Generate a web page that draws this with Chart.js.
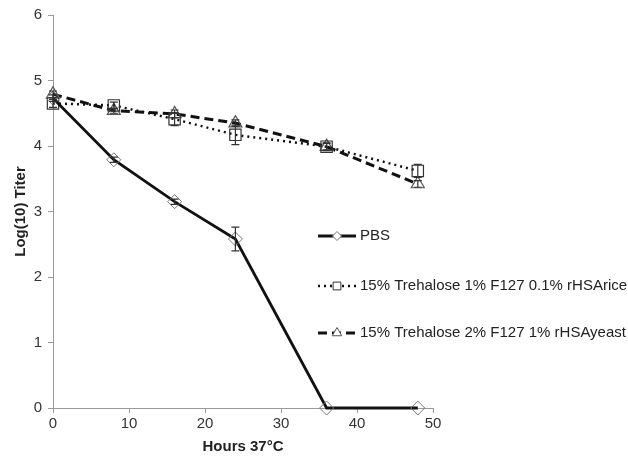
<!DOCTYPE html>
<html>
<head>
<meta charset="utf-8">
<script src="https://cdn.jsdelivr.net/npm/chart.js@4/dist/chart.umd.min.js"></script>
<style>
  html, body { margin: 0; padding: 0; background: #fff; }
  #wrap { width: 628px; height: 456px; position: relative; }
</style>
</head>
<body>
<div id="wrap"><canvas id="chart"></canvas></div>
<script>
// values
const hours = [0, 8, 16, 24, 36, 48];
const seriesNames = ['PBS', '15% Trehalose 1% F127 0.1% rHSArice', '15% Trehalose 2% F127 1% rHSAyeast'];
const pbsTiter = [4.73, 3.79, 3.15, 2.58, 0, 0];
const pbsErr = [0.05, 0.04, 0.04, 0.18, 0, 0];
const riceTiter = [4.65, 4.62, 4.41, 4.17, 3.99, 3.62];
const riceErr = [0.06, 0.05, 0.1, 0.15, 0.06, 0.1];
const yeastTiter = [4.79, 4.54, 4.49, 4.35, 3.99, 3.42];
const yeastErr = [0.05, 0.04, 0.06, 0.05, 0.05, 0.05];
const yTicks = [0, 1, 2, 3, 4, 5, 6];
const xTicks = [0, 10, 20, 30, 40, 50];

const FONT = '"Liberation Sans", Arial, sans-serif';
const toPts = (ys) => hours.map((h, i) => ({ x: h, y: ys[i] }));

const errorBars = {
    id: 'errorBars',
    afterDatasetsDraw(chart) {
        const { ctx, scales: { x, y } } = chart;
        ctx.save();
        ctx.strokeStyle = '#333';
        ctx.lineWidth = 1.2;
        chart.data.datasets.forEach(ds => {
            (ds.errors || []).forEach((e, i) => {
                if (!e) return;
                const px = x.getPixelForValue(ds.data[i].x);
                const top = y.getPixelForValue(ds.data[i].y + e);
                const bot = y.getPixelForValue(ds.data[i].y - e);
                ctx.beginPath();
                ctx.moveTo(px, top); ctx.lineTo(px, bot);
                ctx.moveTo(px - 4, top); ctx.lineTo(px + 4, top);
                ctx.moveTo(px - 4, bot); ctx.lineTo(px + 4, bot);
                ctx.stroke();
            });
        });
        ctx.restore();
    }
};

// legend drawn by hand: line + marker + label
const sideLegend = {
    id: 'sideLegend',
    afterDraw(chart) {
        const ctx = chart.ctx;
        const rows = [236, 286, 333];
        const markerR = [4.5, 5.5, 5.5];
        ctx.save();
        chart.data.datasets.forEach((ds, i) => {
            const yy = rows[i];
            ctx.strokeStyle = '#111';
            ctx.lineWidth = ds.borderWidth;
            ctx.setLineDash(ds.borderDash || []);
            ctx.beginPath();
            ctx.moveTo(318, yy); ctx.lineTo(356, yy);
            ctx.stroke();
            ctx.setLineDash([]);
            ctx.fillStyle = '#fff';
            ctx.strokeStyle = ds.pointBorderColor;
            ctx.lineWidth = 1;
            Chart.helpers.drawPoint(ctx, {
                pointStyle: ds.pointStyle, radius: markerR[i], rotation: 0, borderWidth: 1
            }, 337, yy);
            ctx.fillStyle = '#222';
            ctx.font = '15px ' + FONT;
            ctx.textBaseline = 'middle';
            ctx.fillText(ds.label, 360, yy);
        });
        ctx.restore();
    }
};

new Chart(document.getElementById('chart'), {
    type: 'line',
    data: {
        datasets: [
            {
                label: seriesNames[0], data: toPts(pbsTiter), errors: pbsErr,
                borderColor: '#111', borderWidth: 2.8, clip: false,
                pointStyle: 'rectRot', pointRadius: 7, pointBorderColor: '#777',
                pointBackgroundColor: 'rgba(255,255,255,0)', pointBorderWidth: 1
            },
            {
                label: seriesNames[1], data: toPts(riceTiter), errors: riceErr,
                borderColor: '#111', borderWidth: 2.5, borderDash: [2, 4], clip: false,
                pointStyle: 'rect', pointRadius: 8, pointBorderColor: '#333',
                pointBackgroundColor: 'rgba(255,255,255,0)', pointBorderWidth: 1.2
            },
            {
                label: seriesNames[2], data: toPts(yeastTiter), errors: yeastErr,
                borderColor: '#111', borderWidth: 3, borderDash: [9, 5], clip: false,
                pointStyle: 'triangle', pointRadius: 7.5, pointBorderColor: '#555',
                pointBackgroundColor: 'rgba(255,255,255,0)', pointBorderWidth: 1.2
            }
        ]
    },
    options: {
        responsive: true,
        maintainAspectRatio: false,
        animation: false,
        layout: { padding: { top: 15, right: 195, left: 0, bottom: 0 } },
        plugins: { legend: { display: false }, tooltip: { enabled: false } },
        elements: { line: { tension: 0 } },
        scales: {
            x: {
                type: 'linear', min: 0, max: 50,
                afterBuildTicks: s => { s.ticks = xTicks.map(v => ({ value: v })); },
                afterFit: s => { s.height = 48; },
                grid: { drawOnChartArea: false, drawTicks: true, tickLength: 5, color: '#999' },
                border: { color: '#999', width: 1 },
                ticks: { color: '#333', font: { family: FONT, size: 15 }, padding: 2 },
                title: { display: true, text: 'Hours 37°C', color: '#222',
                         font: { family: FONT, size: 15, weight: 'bold' }, padding: { top: 4, bottom: 0 } }
            },
            y: {
                min: 0, max: 6,
                afterBuildTicks: s => { s.ticks = yTicks.map(v => ({ value: v })); },
                afterFit: s => { s.width = 53; },
                grid: { drawOnChartArea: false, drawTicks: true, tickLength: 5, color: '#999' },
                border: { color: '#999', width: 1 },
                ticks: { color: '#333', font: { family: FONT, size: 15 }, padding: 6 },
                title: { display: true, text: 'Log(10) Titer', color: '#222',
                         font: { family: FONT, size: 15, weight: 'bold' }, padding: { top: 12, bottom: 0 } }
            }
        }
    },
    plugins: [errorBars, sideLegend]
});
</script>
</body>
</html>
